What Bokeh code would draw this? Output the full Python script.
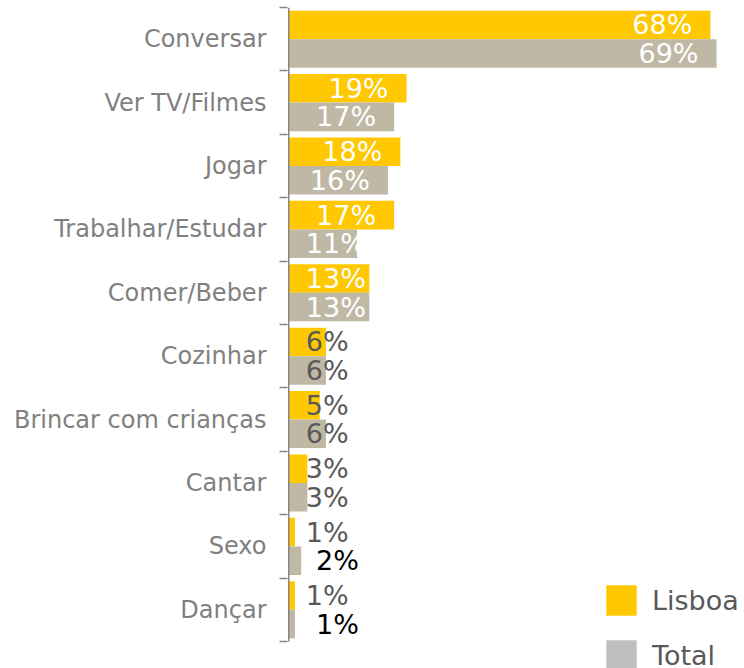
from bokeh.plotting import figure
from bokeh.models import Range1d, FixedTicker, Legend, LegendItem, ColumnDataSource
from bokeh.transform import dodge
from bokeh.core.properties import value
from bokeh.embed import file_html
from bokeh.resources import INLINE

categories = ["Conversar", "Ver TV/Filmes", "Jogar", "Trabalhar/Estudar", "Comer/Beber",
              "Cozinhar", "Brincar com crianças", "Cantar", "Sexo", "Dançar"]
lisboa = [68, 19, 18, 17, 13, 6, 5, 3, 1, 1]
total = [69, 17, 16, 11, 13, 6, 6, 3, 2, 1]

YELLOW = "#FFC800"
GREY = "#BFB8A5"
LEG_GREY = "#BFBFBF"
FONT = "DejaVu Sans"
LABEL_PX = 27
PX_PER_UNIT = 6.19  # frame pixels per percentage point (for label width estimate)

idx = list(range(len(categories)))


def label_left(v, is_total):
    txt = f"{v}%"
    width = (0.636 * (len(txt) - 1) + 0.95) * LABEL_PX / PX_PER_UNIT
    floor = 4.4 if (is_total and v <= 2) else 2.75
    return max(v - 2.9 - width, floor)


def label_color(v, is_total):
    if v >= 10:
        return "white"
    if is_total and v <= 2:
        return "black"
    return "#595959"


src = ColumnDataSource(dict(
    idx=idx,
    lisboa=lisboa,
    total=total,
    lx_l=[label_left(v, False) for v in lisboa],
    lx_t=[label_left(v, True) for v in total],
    lt_l=[f"{v}%" for v in lisboa],
    lt_t=[f"{v}%" for v in total],
    lc_l=[label_color(v, False) for v in lisboa],
    lc_t=[label_color(v, True) for v in total],
))

n = len(categories)
p = figure(width=744, height=668, output_backend="svg", toolbar_location=None,
           x_range=Range1d(-0.2, 73.5), y_range=Range1d(n - 0.5 + 0.426, -0.5),
           x_axis_location=None, y_axis_location="left",
           min_border_left=287, min_border_right=0, min_border_top=7, min_border_bottom=0)
p.outline_line_color = None
p.grid.visible = False
p.background_fill_color = "white"

r_l = p.hbar(y=dodge("idx", -0.225, range=p.y_range), right="lisboa", left=0, height=0.45,
             source=src, fill_color=YELLOW, line_color=None)
r_t = p.hbar(y=dodge("idx", 0.225, range=p.y_range), right="total", left=0, height=0.45,
             source=src, fill_color=GREY, line_color=None)

p.text(x="lx_l", y=dodge("idx", -0.225, range=p.y_range), text="lt_l", source=src,
       text_color="lc_l", text_align="left", text_baseline="middle",
       text_font=value(FONT), text_font_size=f"{LABEL_PX}px")
p.text(x="lx_t", y=dodge("idx", 0.225, range=p.y_range), text="lt_t", source=src,
       text_color="lc_t", text_align="left", text_baseline="middle",
       text_font=value(FONT), text_font_size=f"{LABEL_PX}px")

# axis spine (only across the category bands)
p.segment(x0=[0], y0=[-0.5], x1=[0], y1=[n - 0.5], line_color="#868686", line_width=1.5)

ax = p.yaxis[0]
ax.ticker = FixedTicker(ticks=idx, minor_ticks=[i - 0.5 for i in range(n + 1)])
ax.major_label_overrides = {i: c for i, c in zip(idx, categories)}
ax.major_tick_line_color = None
ax.major_tick_out = 0
ax.major_tick_in = 0
ax.minor_tick_line_color = "#868686"
ax.minor_tick_line_width = 1.5
ax.minor_tick_out = 8
ax.minor_tick_in = 0
ax.axis_line_color = None
ax.major_label_standoff = 13
ax.major_label_text_font = FONT
ax.major_label_text_font_size = "24px"
ax.major_label_text_color = "#808080"

# legend-only swatch for "Total" (zero-width bar, draws nothing in the plot)
dummy_t = p.hbar(y=[0], right=[0], left=[0], height=0.45, fill_color=LEG_GREY, line_color=None)

legend = Legend(items=[LegendItem(label="Lisboa", renderers=[r_l], index=0),
                       LegendItem(label="Total", renderers=[dummy_t], index=0)],
                location=(315, -6), orientation="vertical",
                glyph_width=38, glyph_height=38, label_height=38, spacing=17,
                label_standoff=12, label_text_font=FONT, label_text_font_size="27px",
                label_text_color="#595959", padding=0, margin=0,
                border_line_color=None, background_fill_alpha=0)
p.add_layout(legend, "center")

open("out.html", "w").write(file_html(p, INLINE))
